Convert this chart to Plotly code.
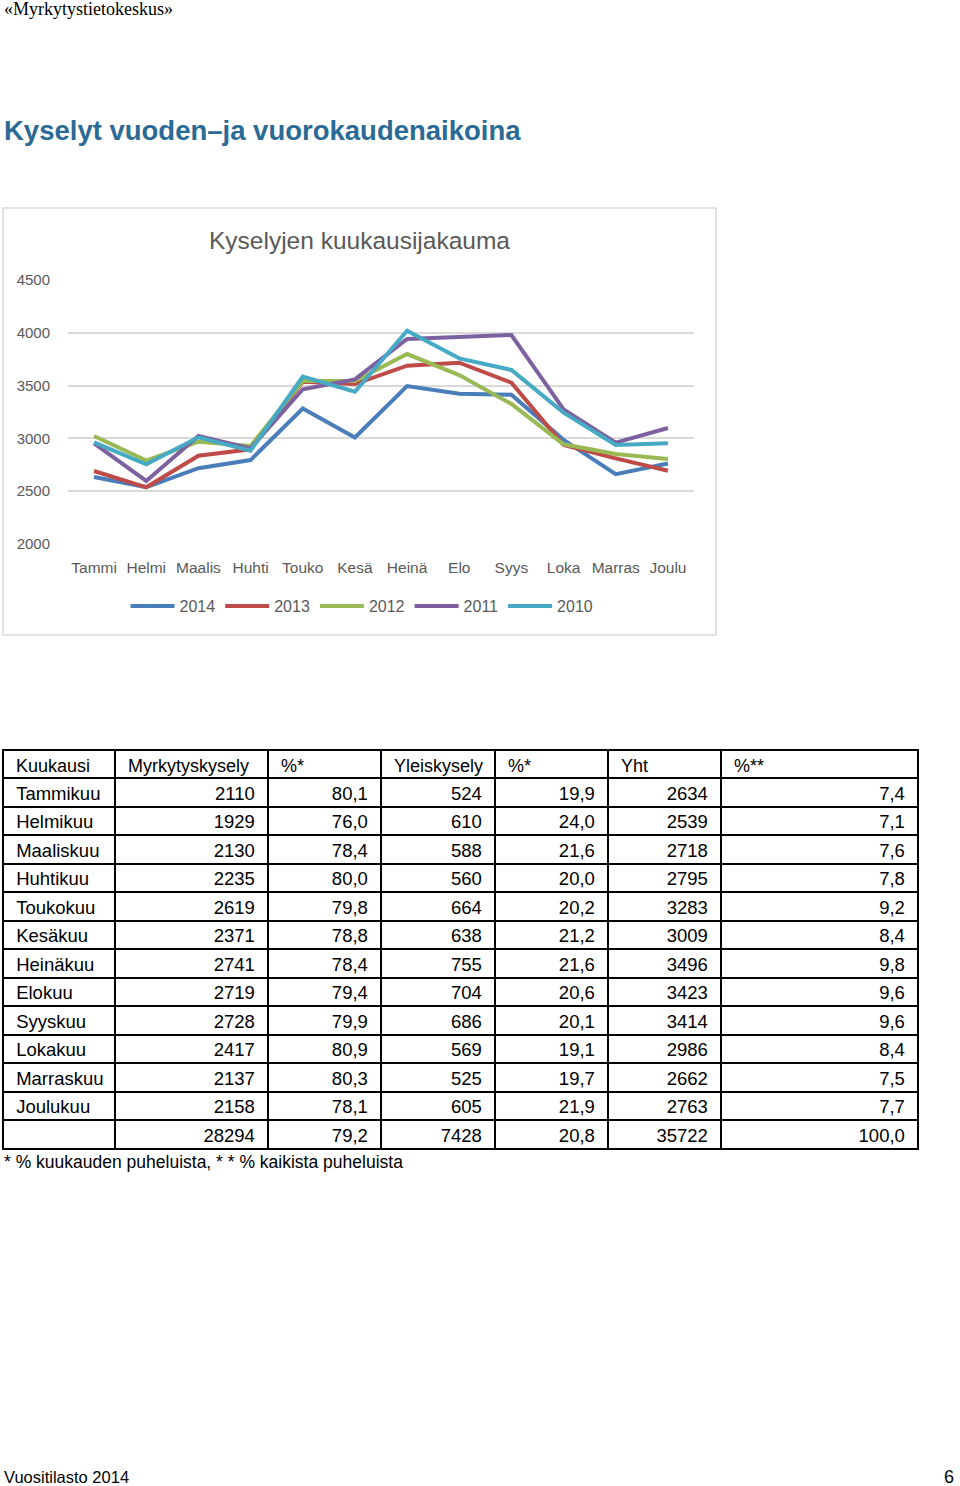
import plotly.graph_objects as go

W, H = 960, 1486

# ---- data ----
months_short = ["Tammi", "Helmi", "Maalis", "Huhti", "Touko", "Kesä", "Heinä", "Elo", "Syys", "Loka", "Marras", "Joulu"]
years = ["2014", "2013", "2012", "2011", "2010"]
v2014 = [2634, 2539, 2718, 2795, 3283, 3009, 3496, 3423, 3414, 2986, 2662, 2763]
v2013 = [2691, 2537, 2836, 2897, 3537, 3515, 3689, 3717, 3528, 2938, 2811, 2694]
v2012 = [3023, 2789, 2969, 2928, 3544, 3544, 3799, 3600, 3326, 2944, 2852, 2805]
v2011 = [2953, 2597, 3023, 2906, 3465, 3559, 3941, 3963, 3979, 3275, 2960, 3098]
v2010 = [2963, 2754, 3010, 2884, 3585, 3442, 4020, 3758, 3648, 3244, 2938, 2953]
series = [v2014, v2013, v2012, v2011, v2010]
colors = ["#4a7ebb", "#be4b48", "#98b954", "#7d60a0", "#46aac5"]
y_ticks = [2000, 2500, 3000, 3500, 4000, 4500]

tbl_header = ["Kuukausi", "Myrkytyskysely", "%*", "Yleiskysely", "%*", "Yht", "%**"]
tbl_month = ["Tammikuu", "Helmikuu", "Maaliskuu", "Huhtikuu", "Toukokuu", "Kesäkuu", "Heinäkuu",
             "Elokuu", "Syyskuu", "Lokakuu", "Marraskuu", "Joulukuu", ""]
tbl_myrk = [2110, 1929, 2130, 2235, 2619, 2371, 2741, 2719, 2728, 2417, 2137, 2158, 28294]
tbl_myrk_pct = ["80,1", "76,0", "78,4", "80,0", "79,8", "78,8", "78,4", "79,4", "79,9", "80,9", "80,3", "78,1", "79,2"]
tbl_yleis = [524, 610, 588, 560, 664, 638, 755, 704, 686, 569, 525, 605, 7428]
tbl_yleis_pct = ["19,9", "24,0", "21,6", "20,0", "20,2", "21,2", "21,6", "20,6", "20,1", "19,1", "19,7", "21,9", "20,8"]
tbl_yht = [2634, 2539, 2718, 2795, 3283, 3009, 3496, 3423, 3414, 2986, 2662, 2763, 35722]
tbl_yht_pct = ["7,4", "7,1", "7,6", "7,8", "9,2", "8,4", "9,8", "9,6", "9,6", "8,4", "7,5", "7,7", "100,0"]


def px(x):
    return x / W


def py(y):
    return 1 - y / H


FONT = "Liberation Sans, Arial, sans-serif"
GRAY = "#595959"
NB = "\u00a0"

fig = go.Figure()

for name, vals, col in zip(years, series, colors):
    fig.add_trace(go.Scatter(x=months_short, y=vals, mode="lines", name=name,
                             line=dict(color=col, width=4), xaxis="x", yaxis="y"))

fig.add_trace(go.Table(
    domain=dict(x=[px(3), px(918)], y=[py(1158), py(750)]),
    columnwidth=[112, 153, 113, 114, 113, 113, 197],
    header=dict(values=tbl_header, align="left", height=28, prefix=NB,
                font=dict(family=FONT, size=18, color="black"),
                line=dict(color="black", width=2), fill=dict(color="white")),
    cells=dict(values=[tbl_month, tbl_myrk, tbl_myrk_pct, tbl_yleis, tbl_yleis_pct, tbl_yht, tbl_yht_pct],
               align=["left", "right", "right", "right", "right", "right", "right"],
               prefix=[NB, "", "", "", "", "", ""],
               suffix=["", NB, NB, NB, NB, NB, NB],
               height=28.5,
               font=dict(family=FONT, size=18.5, color="black"),
               line=dict(color="black", width=2), fill=dict(color="white")),
))

fig.update_layout(
    width=W, height=H, autosize=False,
    margin=dict(l=0, r=0, t=0, b=0, pad=0),
    paper_bgcolor="white", plot_bgcolor="white",
    font=dict(family=FONT, color=GRAY),
    showlegend=True,
    legend=dict(orientation="h", x=px(362), xanchor="center", y=py(606), yanchor="middle",
                font=dict(size=16, color=GRAY), itemwidth=44, bgcolor="rgba(0,0,0,0)"),
    xaxis=dict(domain=[px(68), px(694)], range=[-0.5, 11.5], showgrid=False, showline=False,
               zeroline=False, automargin=False,
               tickfont=dict(size=15.5, color=GRAY), ticks="", ticklabelstandoff=12, fixedrange=True),
    yaxis=dict(domain=[py(544), py(280)], range=[2000, 4500], tickvals=y_ticks, automargin=False,
               showgrid=True, gridcolor="#d9d9d9", gridwidth=1.5, zeroline=False, showline=False,
               tickfont=dict(size=15, color=GRAY), ticks="", ticklabelstandoff=17, fixedrange=True),
    shapes=[dict(type="rect", xref="paper", yref="paper", x0=px(3), x1=px(716), y0=py(635), y1=py(208),
                 line=dict(color="#d9d9d9", width=1.5), fillcolor="rgba(0,0,0,0)", layer="below")],
    annotations=[
        dict(text="«Myrkytystietokeskus»", x=px(2), y=py(9), xref="paper", yref="paper",
             xanchor="left", yanchor="middle", showarrow=False,
             font=dict(family="Liberation Serif, Times New Roman, serif", size=18, color="black")),
        dict(text="<b>Kyselyt vuoden–ja vuorokaudenaikoina</b>", x=px(2), y=py(131), xref="paper", yref="paper",
             xanchor="left", yanchor="middle", showarrow=False,
             font=dict(family=FONT, size=27.5, color="#2b6a95")),
        dict(text="Kyselyjen kuukausijakauma", x=px(359), y=py(240), xref="paper", yref="paper",
             xanchor="center", yanchor="middle", showarrow=False,
             font=dict(family=FONT, size=24.5, color=GRAY)),
        dict(text="* % kuukauden puheluista, * * % kaikista puheluista", x=px(2), y=py(1162),
             xref="paper", yref="paper", xanchor="left", yanchor="middle", showarrow=False,
             font=dict(family=FONT, size=17.5, color="black")),
        dict(text="Vuositilasto 2014", x=px(2), y=py(1477), xref="paper", yref="paper",
             xanchor="left", yanchor="middle", showarrow=False,
             font=dict(family=FONT, size=16.5, color="black")),
        dict(text="6", x=px(956), y=py(1477), xref="paper", yref="paper",
             xanchor="right", yanchor="middle", showarrow=False,
             font=dict(family=FONT, size=18, color="black")),
    ],
)

fig.write_html("out.html", config={"displayModeBar": False},
               post_script="document.body.style.margin='0';document.body.style.overflow='hidden';")
